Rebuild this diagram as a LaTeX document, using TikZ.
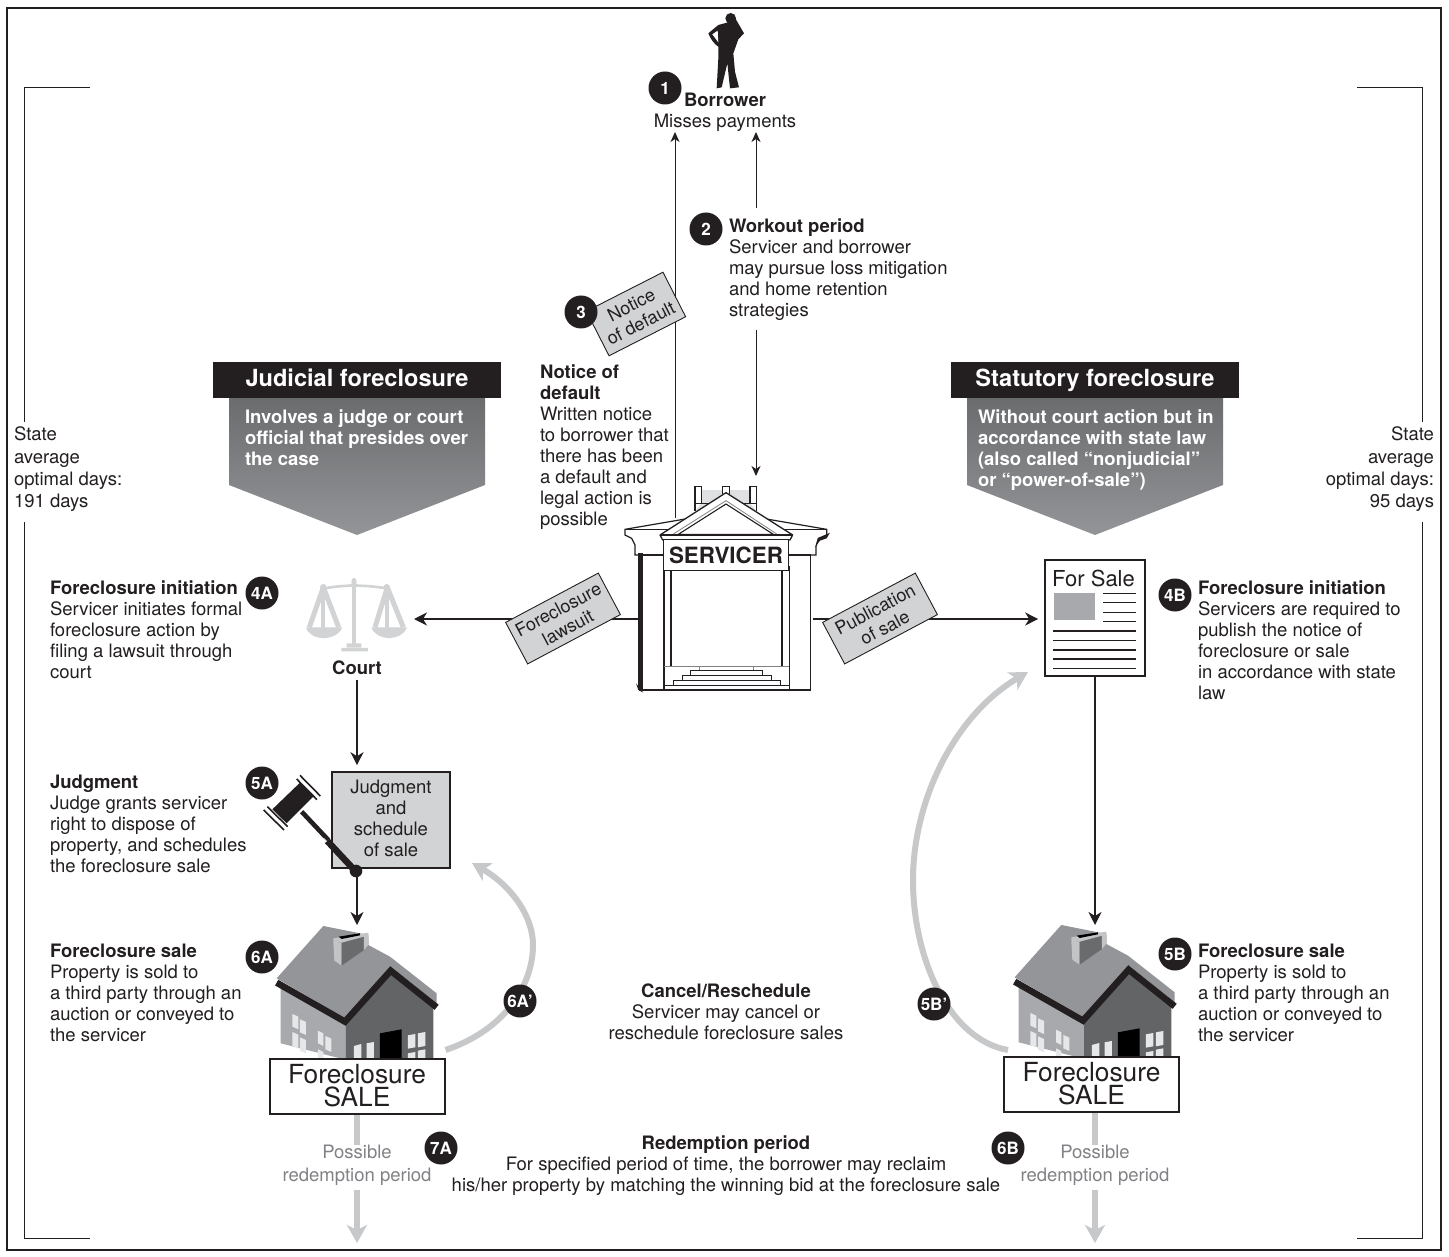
\documentclass[tikz,border=0pt]{standalone}
\usepackage{fontspec}
\setmainfont{TeX Gyre Heros}
\usetikzlibrary{arrows.meta}
\definecolor{ink}{HTML}{231F20}
\definecolor{tag}{HTML}{D1D3D4}
\definecolor{greyarrow}{HTML}{C7C8CA}
\definecolor{softtext}{HTML}{808285}
\definecolor{roofgrey}{HTML}{939598}
\definecolor{wallgrey}{HTML}{A7A9AC}
\definecolor{walldark}{HTML}{636466}
\definecolor{winlight}{HTML}{E6E7E8}
\tikzset{
  body/.style={inner sep=0pt,outer sep=0pt,text=ink,font=\fontsize{18.5}{21}\selectfont,align=left,anchor=north west,yshift=-2pt},
  bodyc/.style={body,align=center,anchor=north},
  bodyr/.style={body,align=right,anchor=north east},
  badge/.style={circle,fill=ink,text=white,inner sep=0pt,minimum size=33pt,font=\fontsize{17}{18}\selectfont\bfseries},
  flow/.style={draw=ink,line width=1.3pt,-{Stealth[length=13pt,width=13pt,inset=4pt]}},
  flowthin/.style={draw=ink,line width=.9pt,-{Stealth[length=10pt,width=9pt,inset=3pt]}},
  softflow/.style={draw=greyarrow,line width=6pt,-{Stealth[length=18pt,width=20pt,inset=5pt]}},
  softline/.style={draw=greyarrow,line width=6pt},
  papertag/.style={draw=ink,line width=.9pt,fill=tag,rotate=28,inner sep=0pt,minimum width=105pt,minimum height=47pt,text=ink,align=center,font=\fontsize{18}{20.5}\selectfont},
  frameline/.style={draw=ink,line width=1pt},
  salebox/.style={draw=ink,line width=2pt,fill=white,minimum width=175pt,minimum height=55pt,inner sep=0pt,align=center,text=ink,font=\fontsize{26.3}{23}\selectfont},
  bannerhead/.style={fill=ink,text=white,minimum width=288pt,minimum height=36pt,inner sep=0pt,text height=18pt,text depth=4pt,font=\fontsize{23.6}{26}\selectfont\bfseries},
  bannertext/.style={body,text=white,font=\fontsize{18.5}{21}\selectfont\bfseries},
}
\newcommand{\drawhouse}[2]{%
\begin{scope}[shift={(#1,#2)},x=0.3333pt,y=-0.3333pt]
 \fill[wallgrey] (122,680)--(318,790)--(320,900)--(122,850)--cycle;
 \fill[walldark] (318,790)--(455,640)--(580,730)--(580,900)--(318,900)--cycle;
 \fill[winlight] (157,762)--(175,770)--(175,808)--(157,800)--cycle (180,778)--(198,786)--(198,825)--(180,817)--cycle
   (157,816)--(175,824)--(175,866)--(157,858)--cycle (180,832)--(198,840)--(198,880)--(180,872)--cycle
   (234,812)--(250,820)--(250,858)--(234,850)--cycle (256,828)--(274,836)--(274,876)--(256,868)--cycle
   (234,868)--(250,876)--(250,895)--(234,895)--cycle (342,858)--(364,852)--(364,895)--(342,895)--cycle
   (380,850)--(402,846)--(402,895)--(380,895)--cycle (504,826)--(526,822)--(526,862)--(504,866)--cycle
   (534,820)--(556,816)--(556,858)--(534,862)--cycle (504,880)--(526,876)--(526,895)--(504,895)--cycle
   (534,872)--(556,868)--(556,895)--(534,895)--cycle;
 \fill[black] (420,820)--(485,808)--(485,895)--(420,895)--cycle;
 \fill[roofgrey] (110,655)--(250,498)--(385,525)--(385,555)--(450,590)--(590,700)--(590,730)--(452,620)--(315,775)--cycle;
 \draw[ink,line width=6.5pt,miter limit=4] (110,668)--(315,785)--(452,632)--(590,742);
 \fill[tag!75!roofgrey] (280,545)--(305,548)--(305,617)--(283,602)--cycle;
 \fill[walldark!85!roofgrey] (305,548)--(372,525)--(372,570)--(305,617)--cycle;
 \fill[tag!75!roofgrey] (280,535)--(385,518)--(387,552)--(372,570)--(372,530)--(305,548)--(280,545)--cycle;
 \fill[black] (296,530)--(360,520)--(360,526)--(305,537)--cycle;
\end{scope}}
\begin{document}
\begin{tikzpicture}[x=1pt,y=-1pt]
\useasboundingbox (0,0) rectangle (1449,1257);
\fill[white] (0,0) rectangle (1449,1257);
\draw[draw=ink,line width=1.6pt] (7,8) rectangle (1441,1250);
% brackets
\coordinate (bl1) at (90,88); \coordinate (bl2) at (24,88); \coordinate (bl3) at (24,422);
\coordinate (bl4) at (24,522); \coordinate (bl5) at (24,1238); \coordinate (bl6) at (90,1238);
\coordinate (br1) at (1357,88); \coordinate (br2) at (1422,88); \coordinate (br3) at (1422,422);
\coordinate (br4) at (1422,522); \coordinate (br5) at (1422,1238); \coordinate (br6) at (1357,1238);
\draw[frameline] (bl1)--(bl2)--(bl3) (bl4)--(bl5)--(bl6) (br1)--(br2)--(br3) (br4)--(br5)--(br6);
\node[body,font=\fontsize{18.5}{22.3}\selectfont] (leftdays) at (14,425) {State\\average\\optimal days:\\191 days};
\node[bodyr,font=\fontsize{18.5}{22.3}\selectfont] (rightdays) at (1434,425) {State\\average\\optimal days:\\95 days};
% borrower figure
\begin{scope}[shift={(640,0)},x=0.3333pt,y=-0.3333pt]
 \fill[ink] (272,55) circle (16);
 \fill[ink] (261,68) -- (235,75) -- (205,100) .. controls (210,115) and (225,135) .. (235,140)
  -- (235,175) -- (230,265) -- (245,262) -- (262,190) -- (270,265) -- (297,262) -- (285,215) -- (280,160) -- (295,118) -- (312,100) -- (290,62) -- (284,50) -- cycle;
 \fill[white] (217,103) -- (233,92) -- (235,127) -- cycle;
\end{scope}
\node[bodyc,font=\fontsize{18.5}{21}\selectfont\bfseries] (borrowerhead) at (725,91) {Borrower};
\node[bodyc] (borrowertext) at (725,112) {Misses payments};
\node[badge] (b1) at (665,88) {1};
% servicer building
\begin{scope}[shift={(600,470)},x=0.3333pt,y=-0.3333pt,line join=miter]
 \fill[tag!70!white] (285,60) rectangle (470,120);
 \draw[ink,line width=1.2pt,fill=white] (285,122)--(285,50)--(305,50)--(305,100) (450,100)--(450,50)--(470,50)--(470,122);
 \draw[ink,line width=1.2pt,fill=white] (367,72)--(367,50)--(388,50)--(388,72);
 \draw[ink,line width=1.2pt] (285,100)--(470,100);
 \draw[ink,line width=1.2pt,fill=white] (75,178)--(250,148)--(505,148)--(680,178)--(680,195)--(655,205)--(648,230)--(648,255)--(105,255)--(105,225)--(95,205)--(75,195)--cycle;
 \draw[ink,line width=.8pt] (75,178)--(680,178);
 \fill[ink] (645,232)--(655,205)--(690,188)--(680,205)--(660,212)--cycle;
 \draw[ink,line width=1.2pt,fill=white] (120,255) rectangle (632,660);
 \fill[ink] (115,250) rectangle (129,660);
 \fill[ink] (108,640)--(130,668)--(115,660)--cycle;
 \draw[ink,line width=1.2pt,fill=white] (192,290) rectangle (568,660);
 \draw[ink,line width=1.3pt] (213,303)--(213,590) (546,303)--(546,590);
 \draw[softtext,line width=.7pt] (192,588)--(568,588) (192,646)--(568,646);
 \draw[softtext,line width=.7pt] (298,588)--(298,602) (460,588)--(460,602);
 \draw[ink,line width=.7pt,fill=white] (272,602) rectangle (488,616);
 \draw[ink,line width=.7pt,fill=white] (246,616) rectangle (514,630);
 \draw[ink,line width=.7pt,fill=white] (220,630) rectangle (541,646);
 \draw[ink,line width=.7pt] (192,660)--(192,646)--(568,646)--(568,660);
 \draw[ink,line width=1.3pt,fill=white,line join=round] (378,68)--(578,195)--(570,210)--(188,210)--(180,195)--cycle;
 \draw[softtext,line width=.8pt] (220,192)--(378,92)--(530,192);
 \draw[ink,line width=1.1pt] (235,193)--(378,102)--(520,193)--cycle;
 \draw[ink,line width=1.3pt] (180,195)--(578,195);
\end{scope}
\node[draw=ink,line width=1.3pt,fill=white,minimum width=125pt,minimum height=31pt,inner sep=0pt,text=ink,font=\fontsize{22.4}{24}\selectfont\bfseries] (servicer) at (726,555) {SERVICER};
% connectors from servicer
\coordinate (sTopA) at (675,518); \coordinate (bTopA) at (675,132);
\coordinate (bTopB) at (756,132); \coordinate (wTop) at (756,208);
\coordinate (wBot) at (756,330); \coordinate (sTopB) at (756,476);
\coordinate (sLeft) at (640,619); \coordinate (sRight) at (813,619);
\draw[flowthin] (sTopA)--(bTopA);
\draw[flowthin] (wTop)--(bTopB);
\draw[flowthin] (wBot)--(sTopB);
\node[badge] (b2) at (706,229) {2};
\node[body] (workouthead) at (729,217) {\textbf{Workout period}\\Servicer and borrower\\may pursue loss mitigation\\and home retention\\strategies};
\node[papertag,rotate=-1,minimum width=86pt,minimum height=50pt] (tagnotice) at (636,314) {Notice\\of default};
\node[badge] (b3) at (581,312) {3};
\node[body] (noticetext) at (540,363) {\textbf{Notice of}\\\textbf{default}\\Written notice\\to borrower that\\there has been\\a default and\\legal action is\\possible};
% banners
\node[bannerhead] (jhead) at (357,380) {Judicial foreclosure};
\shade[top color=walldark!95!white,bottom color=roofgrey] (229,398)--(485,398)--(485,485)--(357,535)--(229,485)--cycle;
\node[bannertext] (jtext) at (245,408) {Involves a judge or court\\official that presides over\\the case};
\node[bannerhead] (shead) at (1095,380) {Statutory foreclosure};
\shade[top color=walldark!95!white,bottom color=roofgrey] (967,398)--(1223,398)--(1223,485)--(1095,535)--(967,485)--cycle;
\node[bannertext] (stext) at (978,408) {Without court action but in\\accordance with state law\\(also called “nonjudicial”\\or “power-of-sale”)};
% court
\begin{scope}[shift={(280,570)},x=0.3333pt,y=-0.3333pt]
 \draw[tag,line width=4pt] (222,35)--(222,222);
 \fill[tag] (222,37) ellipse (8 and 14);
 \draw[tag,line width=2.6pt] (135,55) .. controls (170,48) and (195,48) .. (222,46) .. controls (250,48) and (280,48) .. (318,55);
 \fill[tag] (130,52) circle (10) (320,52) circle (10);
 \draw[tag,line width=5pt,line join=round] (88,172)--(130,52)--(176,172);
 \draw[tag,line width=5pt,line join=round] (285,172)--(322,52)--(370,172);
 \draw[tag,line width=4pt] (130,60)--(130,175) (322,60)--(322,175);
 \fill[tag] (78,172) .. controls (90,215) and (170,215) .. (187,172)--cycle;
 \fill[tag] (274,172) .. controls (290,215) and (365,215) .. (381,172)--cycle;
 \fill[tag] (200,220) rectangle (244,232) (184,234) rectangle (264,244);
\end{scope}
\node[bodyc,font=\fontsize{18.5}{21}\selectfont\bfseries] (court) at (357,659) {Court};
\coordinate (courtArrow) at (414,619);
\draw[flow] (sLeft)--(courtArrow);
\node[papertag] (taglawsuit) at (563,618.5) {Foreclosure\\lawsuit};
\node[badge] (b4a) at (262,593) {4A};
\node[body] (t4a) at (50,579) {\textbf{Foreclosure initiation}\\Servicer initiates formal\\foreclosure action by\\filing a lawsuit through\\court};
% for sale
\node[draw=ink,line width=1.6pt,fill=white,minimum width=100pt,minimum height=116pt,inner sep=0pt] (forsale) at (1095,618) {};
\node[inner sep=0pt,text=ink,font=\fontsize{22}{24}\selectfont] (forsaletext) at (1093.5,578) {For Sale};
\fill[wallgrey] (1054,593) rectangle (1095,620);
\foreach \yy in {593.5,602.5,612.5,621.5} \draw[ink,line width=1.2pt] (1103,\yy)--(1136,\yy);
\foreach \yy in {631,640.5,650,659,668.5} \draw[ink,line width=1.2pt] (1053,\yy)--(1136,\yy);
\draw[flow,shorten >=6pt] (sRight)--(forsale.west |- sRight);
\node[papertag] (tagpub) at (880,618.5) {Publication\\of sale};
\node[badge] (b4b) at (1175,595) {4B};
\node[body] (t4b) at (1198,579) {\textbf{Foreclosure initiation}\\Servicers are required to\\publish the notice of\\foreclosure or sale\\in accordance with state\\law};
% judgment
\node[draw=ink,line width=1.6pt,fill=tag,minimum width=118pt,minimum height=96pt,inner sep=0pt] (judg) at (391,820) {};
\node[inner sep=0pt,align=center,text=ink,font=\fontsize{18.5}{21}\selectfont] (judgtext) at (391,818) {Judgment\\and\\schedule\\of sale};
\draw[flow,shorten >=6pt] (court.south |- 0,680)--(judg.north -| court.south);
\begin{scope}[shift={(240,760)},x=0.3333pt,y=-0.3333pt]
 \fill[ink] (180,68)--(222,108)--(140,190)--(97,148)--cycle;
 \draw[ink,line width=1.6pt] (180,46)--(241,108) (71,150)--(132,210);
 \draw[ink,line width=1.6pt] (170,57)--(231,119) (82,140)--(143,200);
 \draw[ink,line width=4.6pt] (185,155)--(265,240);
 \draw[white,line width=.7pt] (251,235)--(272,256);
 \draw[ink,line width=6.5pt] (262,243)--(345,332);
 \fill[ink] (348,333) circle (19);
\end{scope}
\node[badge] (b5a) at (262,783) {5A};
\node[body] (t5a) at (50,773) {\textbf{Judgment}\\Judge grants servicer\\right to dispose of\\property, and schedules\\the foreclosure sale};
% left house
\drawhouse{240}{760}
\node[salebox] (saleA) at (357,1086) {Foreclosure\\SALE};
\coordinate (gavelEnd) at (357,877); \coordinate (houseTopA) at (357,925);
\draw[flow] (gavelEnd)--(houseTopA);
\node[badge] (b6a) at (262,957) {6A};
\node[body] (t6a) at (50,942) {\textbf{Foreclosure sale}\\Property is sold to\\a third party through an\\auction or conveyed to\\the servicer};
\draw[softflow] (saleA.east |- 0,1050) .. controls (505,1030) and (533,985) .. (533,945) .. controls (533,915) and (510,885) .. (472,863);
\node[badge] (b6ap) at (520,1001) {6A’};
% right house
\drawhouse{978}{759}
\node[salebox] (saleB) at (1091.5,1084) {Foreclosure\\SALE};
\draw[flow] (forsale.south)--(1095,925);
\node[badge] (b5b) at (1175,954) {5B};
\node[body] (t5b) at (1198,942) {\textbf{Foreclosure sale}\\Property is sold to\\a third party through an\\auction or conveyed to\\the servicer};
\coordinate (forsaleIn) at (1028,672);
\draw[softflow] (1008,1050) .. controls (950,1040) and (913,960) .. (913,880) .. controls (913,800) and (955,715) .. (forsaleIn);
\node[badge] (b5bp) at (934,1004) {5B’};
% middle text
\node[bodyc] (cancel) at (726,982) {\textbf{Cancel/Reschedule}\\Servicer may cancel or\\reschedule foreclosure sales};
\node[bodyc] (redeem) at (726,1134) {\textbf{Redemption period}\\For specified period of time, the borrower may reclaim\\his/her property by matching the winning bid at the foreclosure sale};
\node[badge] (b7a) at (441,1148) {7A};
\node[badge] (b6b) at (1008,1148) {6B};
% redemption
\node[bodyc,text=softtext,font=\fontsize{18.5}{23}\selectfont] (possA) at (357,1143) {Possible\\redemption period};
\node[bodyc,text=softtext,font=\fontsize{18.5}{23}\selectfont] (possB) at (1095,1143) {Possible\\redemption period};
\coordinate (endA) at (357,1243); \coordinate (endB) at (1095,1243);
\draw[softline] (saleA.south -| possA.north)--(possA.north);
\draw[softflow] (357,1190)--(endA);
\draw[softline] (possB.north |- saleB.south)--(possB.north);
\draw[softflow] (1095,1190)--(endB);
\end{tikzpicture}
\end{document}
